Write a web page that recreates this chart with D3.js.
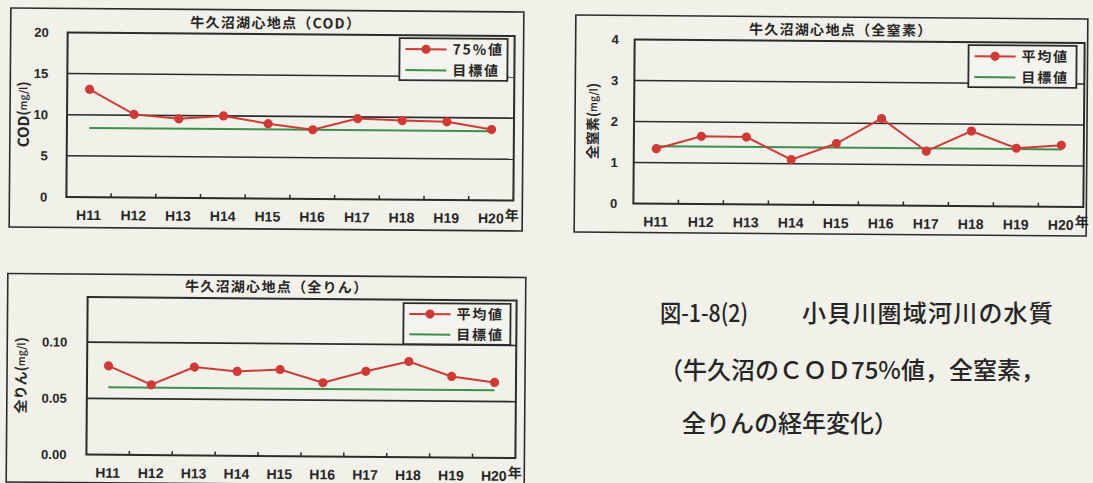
<!DOCTYPE html>
<html>
<head>
<meta charset="utf-8">
<script src="https://cdn.jsdelivr.net/npm/d3@7"></script>
<style>
  html, body { margin: 0; padding: 0; background: #f1f0e9; }
  svg { display: block; }
  text { fill: #262626; }
</style>
</head>
<body>
<svg id="fig" width="1093" height="483"></svg>
<script>
// ---- data -------------------------------------------------------------
const years = ["H11", "H12", "H13", "H14", "H15", "H16", "H17", "H18", "H19", "H20"];

// COD 75% value (mg/l)
const codValues = [13.1, 10.1, 9.6, 10.0, 9.1, 8.4, 9.8, 9.6, 9.5, 8.6];
const codTarget = 8.4;
const codTicks = [0, 5, 10, 15, 20];

// total nitrogen, annual mean (mg/l)
const tnValues = [1.34, 1.65, 1.64, 1.10, 1.50, 2.12, 1.33, 1.83, 1.42, 1.50];
const tnTarget = 1.4;
const tnTicks = [0, 1, 2, 3, 4];

// total phosphorus, annual mean (mg/l)
const tpValues = [0.079, 0.0625, 0.0785, 0.075, 0.077, 0.0655, 0.076, 0.085, 0.072, 0.067];
const tpTarget = 0.06;
const tpTicks = [0, 0.05, 0.10];

const captionLines = [
  ["図-1-8(2)", "小貝川圏域河川の水質"],
  ["（牛久沼のＣＯＤ75%値，全窒素，"],
  ["全りんの経年変化）"]
];

// ---- style ------------------------------------------------------------
const INK = "#2b2b2b";
const RED = "#cf3a36";
const GREEN = "#3d8f4c";
const PAPER = "#f1f0e9";
const JP = "'Noto Sans CJK JP', 'Noto Sans', sans-serif";
const LATIN = "'Liberation Sans', Arial, 'Noto Sans CJK JP', sans-serif";
const TILT = 0.45; // slight skew of the printed sheet

const svg = d3.select("#fig");
svg.append("rect").attr("width", 1093).attr("height", 483).attr("fill", PAPER);

function drawChart(cfg) {
  const f = cfg.frame, p = cfg.plot;
  const cx = (f.x0 + f.x1) / 2, cy = (f.y0 + f.y1) / 2;
  const g = svg.append("g").attr("transform", `rotate(${TILT},${cx},${cy})`);

  // outer frame
  g.append("rect")
    .attr("x", f.x0).attr("y", f.y0)
    .attr("width", f.x1 - f.x0).attr("height", f.y1 - f.y0)
    .attr("fill", "none").attr("stroke", INK).attr("stroke-width", 1.6);

  const x = d3.scaleBand().domain(years).range([p.x0, p.x1]).padding(0);
  const y = d3.scaleLinear().domain([0, cfg.yMax]).range([p.y1, p.y0]);
  const cxOf = d => x(d) + x.bandwidth() / 2;

  // horizontal gridlines
  g.append("g").selectAll("line")
    .data(cfg.ticks.filter(t => t > 0 && y(t) > p.y0 + 1))
    .join("line")
    .attr("x1", p.x0).attr("x2", p.x1)
    .attr("y1", d => y(d)).attr("y2", d => y(d))
    .attr("stroke", INK).attr("stroke-width", 1.6);

  // plot border
  g.append("rect")
    .attr("x", p.x0).attr("y", p.y0)
    .attr("width", p.x1 - p.x0).attr("height", p.y1 - p.y0)
    .attr("fill", "none").attr("stroke", INK).attr("stroke-width", 2);

  // category separators on the category axis
  g.append("g").selectAll("line")
    .data(years.slice(1))
    .join("line")
    .attr("x1", d => x(d)).attr("x2", d => x(d))
    .attr("y1", p.y1).attr("y2", p.y1 - 4)
    .attr("stroke", INK).attr("stroke-width", 1.5);

  // x axis labels
  const xAxis = g.append("g")
    .attr("transform", `translate(0,${p.y1})`)
    .call(d3.axisBottom(x).tickSize(0).tickPadding(13));
  xAxis.select(".domain").remove();
  xAxis.selectAll("text")
    .attr("font-family", LATIN).attr("font-weight", "bold")
    .attr("font-size", 14).attr("fill", "#262626");

  // year unit after the last label
  g.append("text")
    .attr("x", cxOf(years[years.length - 1]) + 14)
    .attr("y", p.y1 + 20)
    .attr("font-family", JP).attr("font-weight", "bold").attr("font-size", 14)
    .text("年");

  // y axis labels
  const yAxis = g.append("g")
    .attr("transform", `translate(${p.x0},0)`)
    .call(d3.axisLeft(y).tickValues(cfg.ticks).tickSize(0)
      .tickPadding(cfg.tickPad).tickFormat(cfg.tickFormat));
  yAxis.select(".domain").remove();
  yAxis.selectAll("text")
    .attr("font-family", LATIN).attr("font-weight", "bold")
    .attr("font-size", 13).attr("fill", "#262626");

  // target line
  g.append("line")
    .attr("x1", cxOf(years[0])).attr("x2", cxOf(years[years.length - 1]))
    .attr("y1", y(cfg.target)).attr("y2", y(cfg.target))
    .attr("stroke", GREEN).attr("stroke-width", 2);

  // measured series
  const pts = years.map((yr, i) => ({ yr, v: cfg.values[i] }));
  g.append("path")
    .datum(pts)
    .attr("fill", "none").attr("stroke", RED).attr("stroke-width", 2)
    .attr("d", d3.line().x(d => cxOf(d.yr)).y(d => y(d.v)));
  g.append("g").selectAll("circle")
    .data(pts)
    .join("circle")
    .attr("cx", d => cxOf(d.yr)).attr("cy", d => y(d.v))
    .attr("r", 4.6).attr("fill", RED);

  // title
  g.append("text")
    .attr("x", cfg.titleX).attr("y", cfg.titleY)
    .attr("text-anchor", "middle")
    .attr("font-family", JP).attr("font-weight", "bold").attr("font-size", 14)
    .attr("letter-spacing", 1.3)
    .text(cfg.title);

  // y axis title (rotated)
  const yt = g.append("text")
    .attr("transform", `translate(${cfg.yLabelX},${(p.y0 + p.y1) / 2}) rotate(-90)`)
    .attr("text-anchor", "middle")
    .attr("dominant-baseline", "central")
    .attr("font-family", JP).attr("font-weight", "bold");
  yt.append("tspan").attr("font-size", cfg.yLabelSize).text(cfg.yLabel);
  yt.append("tspan").attr("font-size", 14).text("(");
  yt.append("tspan").attr("font-size", 10.5).attr("font-weight", 500).text("mg/l");
  yt.append("tspan").attr("font-size", 14).text(")");

  // legend
  const L = cfg.legend;
  const lg = g.append("g");
  lg.append("rect")
    .attr("x", L.x0).attr("y", L.y0)
    .attr("width", L.x1 - L.x0).attr("height", L.y1 - L.y0)
    .attr("fill", "#f4f3ee").attr("stroke", INK).attr("stroke-width", 1.8);
  const rowH = (L.y1 - L.y0) / 2;
  const entries = [
    { name: cfg.seriesName, color: RED, marker: true },
    { name: "目標値", color: GREEN, marker: false }
  ];
  const row = lg.selectAll("g.entry").data(entries).join("g")
    .attr("class", "entry")
    .attr("transform", (d, i) => `translate(${L.x0},${L.y0 + rowH * (i + 0.5) + 0.5})`);
  row.append("line")
    .attr("x1", 6).attr("x2", 47).attr("y1", 0).attr("y2", 0)
    .attr("stroke", d => d.color).attr("stroke-width", 2);
  row.filter(d => d.marker).append("circle")
    .attr("cx", 26.5).attr("cy", 0).attr("r", 4.6).attr("fill", RED);
  row.append("text")
    .attr("x", 53).attr("y", 0).attr("dy", "0.36em")
    .attr("font-family", JP).attr("font-weight", "bold").attr("font-size", 14)
    .attr("letter-spacing", 1.8)
    .text(d => d.name);
}

drawChart({
  frame: { x0: 10, y0: 10, x1: 523, y1: 229 },
  plot: { x0: 67, y0: 34, x1: 514, y1: 198.5 },
  yMax: 20, ticks: codTicks, tickFormat: d3.format("d"), tickPad: 19,
  values: codValues, target: codTarget, seriesName: "75%値",
  title: "牛久沼湖心地点（COD）", titleX: 275, titleY: 28,
  yLabel: "COD", yLabelSize: 15, yLabelX: 22,
  legend: { x0: 399, y0: 37, x1: 507, y1: 79 }
});

drawChart({
  frame: { x0: 575, y0: 17, x1: 1087, y1: 234 },
  plot: { x0: 634, y0: 41, x1: 1084, y1: 205 },
  yMax: 4, ticks: tnTicks, tickFormat: d3.format("d"), tickPad: 16,
  values: tnValues, target: tnTarget, seriesName: "平均値",
  title: "牛久沼湖心地点（全窒素）", titleX: 840, titleY: 35,
  yLabel: "全窒素", yLabelSize: 14, yLabelX: 592,
  legend: { x0: 968, y0: 44, x1: 1076, y1: 86 }
});

drawChart({
  frame: { x0: 7, y0: 275.5, x1: 525, y1: 484 },
  plot: { x0: 87, y0: 298.5, x1: 516, y1: 456 },
  yMax: 0.14, ticks: tpTicks, tickFormat: d3.format(".2f"), tickPad: 20,
  values: tpValues, target: tpTarget, seriesName: "平均値",
  title: "牛久沼湖心地点（全りん）", titleX: 276, titleY: 292,
  yLabel: "全りん", yLabelSize: 14, yLabelX: 20,
  legend: { x0: 403, y0: 302, x1: 510, y1: 343 }
});

// figure caption
const cap = svg.append("g")
  .attr("font-family", JP).attr("font-weight", 500).attr("font-size", 24)
  .attr("fill", "#262626");
cap.append("text").attr("x", 660).attr("y", 322)
  .attr("textLength", 88).attr("lengthAdjust", "spacingAndGlyphs")
  .text(captionLines[0][0]);
cap.append("text").attr("x", 802).attr("y", 322).attr("letter-spacing", 1.2)
  .text(captionLines[0][1]);
cap.append("text").attr("x", 659).attr("y", 379).text(captionLines[1][0]);
cap.append("text").attr("x", 682).attr("y", 432).text(captionLines[2][0]);
</script>
</body>
</html>
